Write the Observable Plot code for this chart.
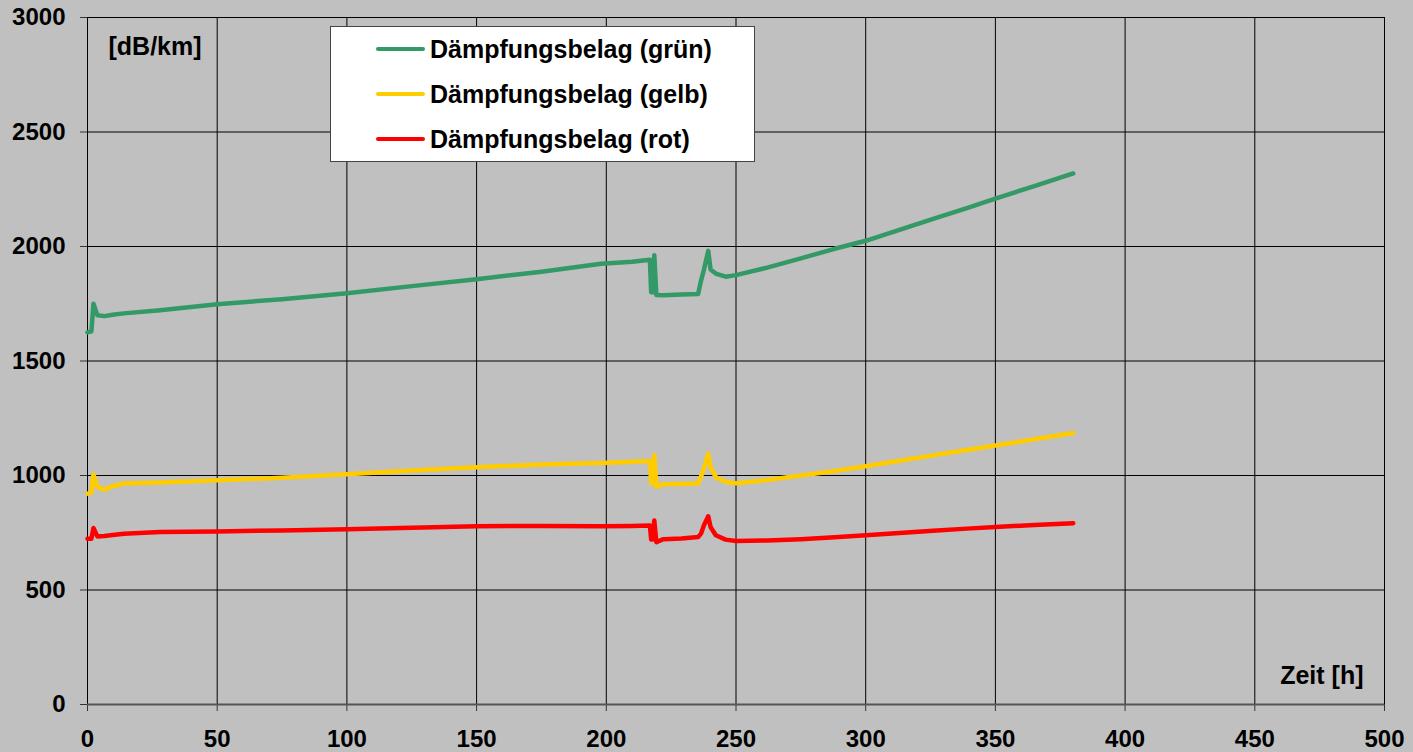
<!DOCTYPE html>
<html lang="de">
<head>
<meta charset="utf-8">
<title>Dämpfungsbelag über der Zeit</title>
<script src="https://cdn.jsdelivr.net/npm/d3@7"></script>
<script src="https://cdn.jsdelivr.net/npm/@observablehq/plot@0.6"></script>
<style>
  html, body { margin: 0; padding: 0; background: #c0c0c0; }
  #wrap { position: relative; width: 1413px; height: 752px; overflow: hidden; }
  #wrap svg text { font-weight: bold; }
  .legend {
    position: absolute; left: 330px; top: 26px; width: 423px; height: 134px;
    background: #fff; border: 1px solid #444; box-sizing: content-box;
    font-family: "Liberation Sans", Arial, sans-serif; font-weight: bold; font-size: 25px; color: #000;
  }
  .legend .row { position: absolute; left: 45px; height: 30px; display: flex; align-items: center; }
  .legend .sw { width: 49px; height: 4px; border-radius: 2px; margin-right: 5px; }
</style>
</head>
<body>
<div id="wrap"></div>
<script>
// Zeitpunkte [h] und Dämpfungsbelag [dB/km] der drei Adern
const zeit = [0, 1.5, 2.3, 3.8, 6.5, 9.7, 14, 28, 50, 75, 100, 125, 150, 175, 198, 210,
  216.8, 217.3, 217.8, 218.5, 219.3, 222, 229, 235.4, 236.5, 237.6, 239.3, 240.2, 242.2,
  246, 250, 262, 275, 288, 300, 313, 326, 339, 350, 365, 380];

const gruen = [1625, 1630, 1750, 1700, 1696, 1702, 1708, 1722, 1748, 1770, 1796, 1827, 1857, 1890, 1925, 1933,
  1942, 1800, 1800, 1962, 1788, 1787, 1790, 1793, 1850, 1897, 1981, 1900, 1882,
  1868, 1875, 1908, 1948, 1990, 2025, 2073, 2121, 2168, 2209, 2264, 2319];

const gelb = [921, 925, 1005, 950, 938, 953, 965, 969, 979, 990, 1005, 1022, 1036, 1048, 1055, 1060,
  1063, 966, 966, 1088, 950, 962, 963, 965, 995, 1030, 1096, 1037, 993,
  972, 966, 980, 1000, 1020, 1040, 1064, 1088, 1111, 1131, 1158, 1186];

const rot = [724, 724, 771, 734, 736, 740, 746, 753, 756, 760, 765, 772, 778, 780, 778, 780,
  782, 720, 720, 804, 709, 722, 725, 731, 746, 782, 822, 775, 739,
  720, 714, 716, 722, 730, 739, 749, 759, 768, 775, 784, 792];

const serien = ["Dämpfungsbelag (grün)", "Dämpfungsbelag (gelb)", "Dämpfungsbelag (rot)"];
const farben = ["#339966", "#ffcc00", "#ff0000"];

const xTicks = d3.range(0, 501, 50);
const yTicks = d3.range(0, 3001, 500);

const toRows = (werte) => zeit.map((t, i) => ({zeit: t, wert: werte[i]}));
const reihen = [gruen, gelb, rot].map(toRows);

const chart = Plot.plot({
  width: 1413,
  height: 752,
  marginLeft: 87,
  marginRight: 29,
  marginTop: 17,
  marginBottom: 48,
  style: {
    background: "#c0c0c0",
    fontFamily: "'Liberation Sans', Arial, sans-serif",
    fontSize: "24px",
    color: "#000",
    overflow: "visible"
  },
  x: {domain: [0, 500]},
  y: {domain: [0, 3000]},
  marks: [
    Plot.gridX(xTicks, {stroke: "#000", strokeOpacity: 1, strokeWidth: 1}),
    Plot.gridY(yTicks, {stroke: "#000", strokeOpacity: 1, strokeWidth: 1}),
    Plot.axisX(xTicks, {tickSize: 7, tickPadding: 18, label: null, stroke: "#333",
      tickFormat: d3.format("d"), fontSize: 24, fontWeight: "bold"}),
    Plot.axisY(yTicks, {tickSize: 7, tickPadding: 15, label: null, stroke: "#333",
      tickFormat: d3.format("d"), fontSize: 24, fontWeight: "bold"}),
    Plot.ruleX([0], {stroke: "#000", strokeWidth: 1}),
    Plot.ruleY([0], {stroke: "#555", strokeWidth: 2}),
    ...reihen.map((daten, i) => Plot.line(daten, {
      x: "zeit", y: "wert", stroke: farben[i], strokeWidth: 4.5,
      strokeLinejoin: "round", strokeLinecap: "round"
    })),
    Plot.text(["[dB/km]"], {
      frameAnchor: "top-left", textAnchor: "start", lineAnchor: "bottom",
      dx: 21, dy: 37, fontSize: 25, fontWeight: "bold", fill: "#000"
    }),
    Plot.text(["Zeit [h]"], {
      frameAnchor: "bottom-right", textAnchor: "end", lineAnchor: "bottom",
      dx: -21, dy: -21, fontSize: 25, fontWeight: "bold", fill: "#000"
    })
  ]
});

const wrap = document.getElementById("wrap");
wrap.appendChild(chart);

// Legende
const legend = document.createElement("div");
legend.className = "legend";
serien.forEach((name, i) => {
  const row = document.createElement("div");
  row.className = "row";
  row.style.top = (7 + i * 45) + "px";
  const sw = document.createElement("span");
  sw.className = "sw";
  sw.style.background = farben[i];
  const label = document.createElement("span");
  label.textContent = name;
  row.appendChild(sw);
  row.appendChild(label);
  legend.appendChild(row);
});
wrap.appendChild(legend);
</script>
</body>
</html>
